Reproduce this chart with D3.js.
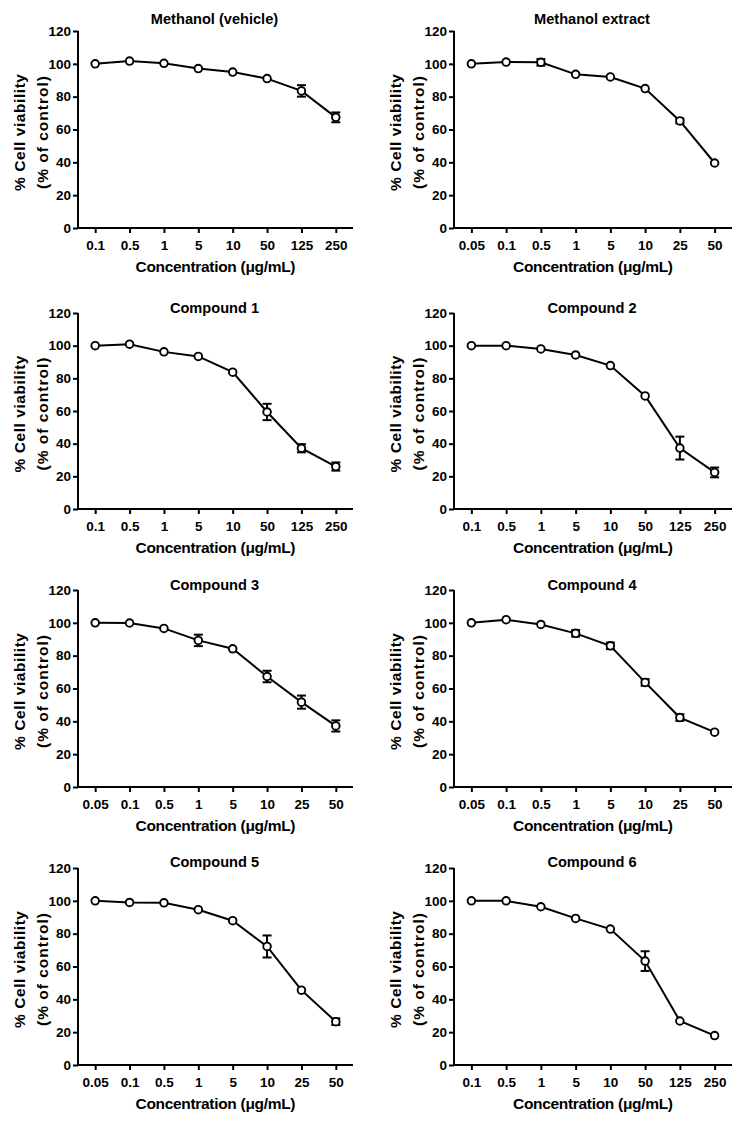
<!DOCTYPE html>
<html>
<head>
<meta charset="utf-8">
<script src="https://cdn.jsdelivr.net/npm/d3@7"></script>
<style>
  html, body { margin: 0; padding: 0; background: #fff; }
  svg { display: block; }
  text { font-family: "Liberation Sans", Arial, sans-serif; font-weight: bold; fill: #000; }
</style>
</head>
<body>
<svg id="chart" width="747" height="1127"></svg>
<script>
// ---------- data ----------
const titles = ["Methanol (vehicle)", "Methanol extract", "Compound 1", "Compound 2",
                "Compound 3", "Compound 4", "Compound 5", "Compound 6"];

const concA = ["0.1", "0.5", "1", "5", "10", "50", "125", "250"];
const concB = ["0.05", "0.1", "0.5", "1", "5", "10", "25", "50"];
const panelConc = [concA, concB, concA, concA, concB, concB, concB, concA];

const meanVehicle   = [100, 101.7, 100.3, 97.1, 95.0, 91.0, 83.5, 67.4];
const errVehicle    = [0, 0, 0, 0, 0, 0, 3.5, 3.0];
const meanExtract   = [100, 101.1, 100.9, 93.6, 92.0, 84.9, 65.2, 39.6];
const errExtract    = [0, 0, 2.0, 0, 0, 0, 1.5, 0];
const meanCompound1 = [100, 100.9, 96.2, 93.4, 83.8, 59.4, 37.2, 26.0];
const errCompound1  = [0, 0, 0, 0, 0, 5.0, 2.5, 2.5];
const meanCompound2 = [100, 100, 98.0, 94.3, 87.8, 69.2, 37.3, 22.4];
const errCompound2  = [0, 0, 0, 0, 0, 0, 7.0, 3.0];
const meanCompound3 = [100, 99.9, 96.6, 89.3, 84.2, 67.3, 51.7, 37.2];
const errCompound3  = [0, 0, 0, 3.5, 0, 3.5, 4.0, 3.4];
const meanCompound4 = [100, 101.9, 99.0, 93.6, 86.0, 63.7, 42.3, 33.4];
const errCompound4  = [0, 0, 0, 2.0, 2.0, 2.0, 2.0, 0];
const meanCompound5 = [100, 99.0, 98.8, 94.6, 87.9, 72.2, 45.6, 26.4];
const errCompound5  = [0, 0, 0, 0, 0, 6.7, 0, 2.0];
const meanCompound6 = [100, 100, 96.4, 89.3, 82.8, 63.3, 26.8, 17.9];
const errCompound6  = [0, 0, 0, 0, 0, 6.0, 0, 0];

const panelMeans = [meanVehicle, meanExtract, meanCompound1, meanCompound2,
                    meanCompound3, meanCompound4, meanCompound5, meanCompound6];
const panelErrs  = [errVehicle, errExtract, errCompound1, errCompound2,
                    errCompound3, errCompound4, errCompound5, errCompound6];

const yTicks = [0, 20, 40, 60, 80, 100, 120];
const yTitle1 = "% Cell viability";
const yTitle2 = "(% of control)";
const xTitle = "Concentration (\u03BCg/mL)";

// ---------- layout ----------
const colX = [[78, 353], [454, 732]];
const rowY = [[31, 228], [313, 509], [590, 787], [868, 1065]];
const titleCY = [19, 308, 585, 862];

const svg = d3.select("#chart");

titles.forEach((title, i) => {
  const col = i % 2, row = Math.floor(i / 2);
  const [x0, x1] = colX[col];
  const [yTop, yBot] = rowY[row];
  const conc = panelConc[i];
  const means = panelMeans[i];
  const errs = panelErrs[i];

  const x = d3.scalePoint().domain(conc).range([x0, x1]).padding(0.5);
  const y = d3.scaleLinear().domain([0, 120]).range([yBot, yTop]);

  const g = svg.append("g");

  // axes
  const ya = g.append("g").attr("transform", `translate(${x0},0)`)
    .call(d3.axisLeft(y).tickValues(yTicks).tickSize(5).tickSizeOuter(0).tickPadding(2));
  const xa = g.append("g").attr("transform", `translate(0,${yBot})`)
    .call(d3.axisBottom(x).tickSize(5).tickSizeOuter(0).tickPadding(7));
  [ya, xa].forEach(a => {
    a.selectAll("path.domain").attr("stroke", "#000").attr("stroke-width", 2);
    a.selectAll(".tick line").attr("stroke", "#000").attr("stroke-width", 2);
    a.selectAll(".tick text").style("font-size", "13.5px").style("font-weight", "bold")
      .style("font-family", '"Liberation Sans", Arial, sans-serif').attr("fill", "#000");
  });
  ya.select("path.domain").attr("d", `M0,${yBot + 1}V${yTop}`);
  xa.select("path.domain").attr("d", `M${x0 - 1},0H${x1}`);

  // title
  g.append("text").attr("x", (x0 + x1) / 2 - 1).attr("y", titleCY[row] + 5)
    .attr("text-anchor", "middle").style("font-size", "14.6px").text(title);

  // x title
  g.append("text").attr("x", (x0 + x1) / 2).attr("y", yBot + 44)
    .attr("text-anchor", "middle").style("font-size", "15.5px")
    .attr("textLength", 160).attr("lengthAdjust", "spacing").text(xTitle);

  // y title (two lines)
  const yc = (yTop + yBot) / 2 + 3;
  g.append("text").attr("transform", `translate(${x0 - 53},${yc}) rotate(-90)`)
    .attr("text-anchor", "middle").style("font-size", "15.5px")
    .attr("textLength", 117).attr("lengthAdjust", "spacing").text(yTitle1);
  g.append("text").attr("transform", `translate(${x0 - 30},${yc}) rotate(-90)`)
    .attr("text-anchor", "middle").style("font-size", "15.5px")
    .attr("textLength", 113).attr("lengthAdjust", "spacing").text(yTitle2);

  const pts = conc.map((c, k) => ({ c, m: means[k], e: errs[k] }));

  // line
  g.append("path").datum(pts)
    .attr("fill", "none").attr("stroke", "#000").attr("stroke-width", 2)
    .attr("d", d3.line().x(d => x(d.c)).y(d => y(d.m)));

  // error bars
  const eb = g.selectAll("g.eb").data(pts.filter(d => d.e > 0)).enter().append("g");
  eb.append("line").attr("x1", d => x(d.c)).attr("x2", d => x(d.c))
    .attr("y1", d => y(d.m - d.e)).attr("y2", d => y(d.m + d.e))
    .attr("stroke", "#000").attr("stroke-width", 2);
  [1, -1].forEach(s => {
    eb.append("line").attr("x1", d => x(d.c) - 4.5).attr("x2", d => x(d.c) + 4.5)
      .attr("y1", d => y(d.m + s * d.e)).attr("y2", d => y(d.m + s * d.e))
      .attr("stroke", "#000").attr("stroke-width", 2);
  });

  // points
  g.selectAll("circle").data(pts).enter().append("circle")
    .attr("cx", d => x(d.c)).attr("cy", d => y(d.m)).attr("r", 3.8)
    .attr("fill", "#fff").attr("stroke", "#000").attr("stroke-width", 1.9);
});
</script>
</body>
</html>
